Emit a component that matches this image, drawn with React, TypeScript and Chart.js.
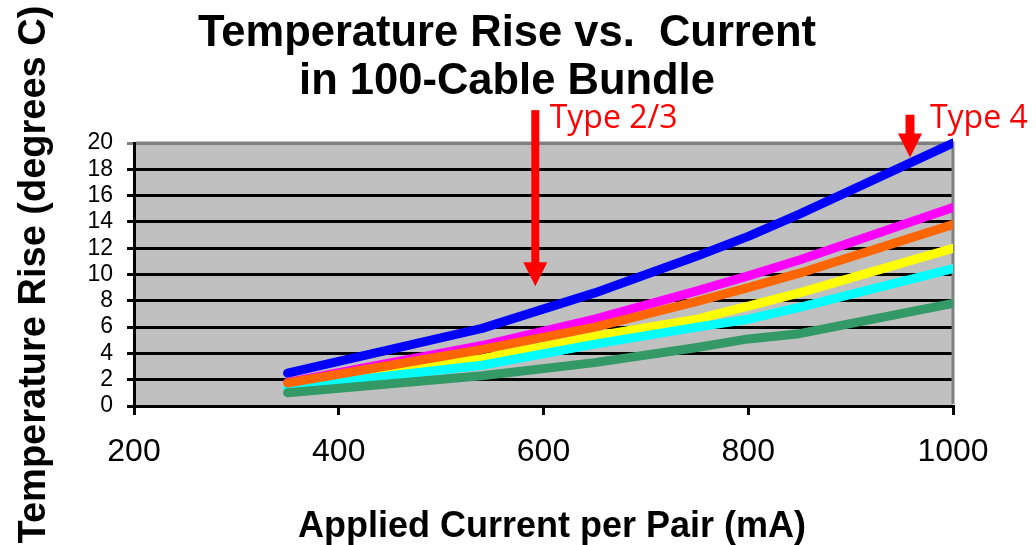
import { useEffect, useRef } from "react";
import { Chart, registerables } from "chart.js";

Chart.register(...registerables);

// ---- data ----
const currentsMA = [350, 540, 650, 750, 800, 850, 1000];
const riseBlue = [2.5, 5.9, 8.6, 11.4, 12.9, 14.6, 20.0];
const riseMagenta = [1.8, 4.6, 6.6, 8.75, 9.9, 11.1, 15.1];
const riseOrange = [1.75, 4.3, 6.0, 7.95, 9.0, 10.1, 13.8];
const riseYellow = [1.55, 3.6, 5.3, 6.6, 7.6, 8.6, 12.0];
const riseCyan = [1.4, 3.1, 4.7, 6.0, 6.6, 7.5, 10.45];
const riseGreen = [1.0, 2.3, 3.3, 4.45, 5.1, 5.5, 7.8];

const xTickValues = [200, 400, 600, 800, 1000];
const yTickValues = [0, 2, 4, 6, 8, 10, 12, 14, 16, 18, 20];

const titleLines = ["Temperature Rise vs.  Current", "in 100-Cable Bundle"];
const xAxisTitle = "Applied Current per Pair (mA)";
const yAxisTitle = "Temperature Rise (degrees C)";

// annotation arrows (in data units)
const arrowLabels = ["Type 2/3", "Type 4"];
const arrowCurrents = [592, 958];
const arrowTipRise = [9.1, 18.9];
const arrowTailRise = [22.5, 22.15];
const labelCurrents = [606, 977.5];
const labelRise = [21.13, 21.13];

const FONT = '"Liberation Sans", Arial, sans-serif';
const NOTE_FONT = '"Open Sans", "Noto Sans", sans-serif';

function pts(values: number[]) {
  return currentsMA.map((x, i) => ({ x, y: values[i] }));
}

const chartDecor = {
  id: "chartDecor",
  beforeDraw(chart: any) {
    const { ctx, chartArea } = chart;
    const { left, top, right, bottom } = chartArea;
    ctx.save();
    ctx.fillStyle = "#C0C0C0";
    ctx.fillRect(left, top, right - left, bottom - top);
    ctx.restore();
  },
  beforeDatasetsDraw(chart: any) {
    const { ctx, chartArea } = chart;
    const { left, top, right, bottom } = chartArea;
    ctx.save();
    ctx.strokeStyle = "#808080";
    ctx.lineWidth = 3;
    ctx.beginPath();
    ctx.moveTo(left + 2, top);
    ctx.lineTo(right, top);
    ctx.lineTo(right, bottom - 2);
    ctx.stroke();
    ctx.restore();
  },
  afterDraw(chart: any) {
    const { ctx } = chart;
    const xs = chart.scales.x;
    const ys = chart.scales.y;
    ctx.save();
    // chart title
    ctx.fillStyle = "#000000";
    ctx.textAlign = "center";
    ctx.textBaseline = "alphabetic";
    ctx.font = `bold 43.5px ${FONT}`;
    ctx.fillText(titleLines[0], 507, 46);
    ctx.fillText(titleLines[1], 507, 94);
    // x axis title
    ctx.font = `bold 36px ${FONT}`;
    ctx.fillText(xAxisTitle, 552, 537);

    // arrows + labels
    const shaftW = [8, 9];
    const headW = 24;
    const headH = 24;
    ctx.fillStyle = "#FF0000";
    for (let i = 0; i < arrowLabels.length; i++) {
      const px = xs.getPixelForValue(arrowCurrents[i]);
      const tip = ys.getPixelForValue(arrowTipRise[i]);
      const tail = ys.getPixelForValue(arrowTailRise[i]);
      const baseY = tip - headH;
      ctx.fillRect(px - shaftW[i] / 2, tail, shaftW[i], baseY - tail + 1);
      ctx.beginPath();
      ctx.moveTo(px - headW / 2, baseY);
      ctx.lineTo(px + headW / 2, baseY);
      ctx.lineTo(px, tip);
      ctx.closePath();
      ctx.fill();
      ctx.font = `32px ${NOTE_FONT}`;
      ctx.textAlign = "left";
      ctx.textBaseline = "alphabetic";
      ctx.fillText(
        arrowLabels[i],
        xs.getPixelForValue(labelCurrents[i]),
        ys.getPixelForValue(labelRise[i])
      );
    }
    ctx.restore();
  },
};

export default function App() {
  const canvasRef = useRef<HTMLCanvasElement | null>(null);

  useEffect(() => {
    const canvas = canvasRef.current;
    if (!canvas) return;
    const common = {
      borderWidth: 9,
      pointRadius: 0,
      pointHoverRadius: 0,
      tension: 0,
      fill: false,
      borderCapStyle: "round",
      borderJoinStyle: "round",
      clip: { left: 10, top: 10, right: 0, bottom: 10 },
    };
    const chart = new Chart(canvas, {
      type: "line",
      data: {
        datasets: [
          { label: "Blue", data: pts(riseBlue), borderColor: "#0000FF", ...common },
          { label: "Orange", data: pts(riseOrange), borderColor: "#FF6600", ...common },
          { label: "Green", data: pts(riseGreen), borderColor: "#339966", ...common },
          { label: "Cyan", data: pts(riseCyan), borderColor: "#00FFFF", ...common },
          { label: "Yellow", data: pts(riseYellow), borderColor: "#FFFF00", ...common },
          { label: "Magenta", data: pts(riseMagenta), borderColor: "#FF00FF", ...common },
        ] as any,
      },
      options: {
        responsive: false,
        animation: false,
        devicePixelRatio: 1,
        layout: { padding: { left: 0, right: 83, top: 143, bottom: 0 } },
        plugins: {
          legend: { display: false },
          title: { display: false },
          tooltip: { enabled: false },
        },
        events: [],
        scales: {
          x: {
            type: "linear",
            min: 200,
            max: 1000,
            afterBuildTicks: (scale: any) => {
              scale.ticks = xTickValues.map((v) => ({ value: v }));
            },
            afterFit: (scale: any) => {
              scale.height = 139;
            },
            grid: {
              drawOnChartArea: false,
              drawTicks: true,
              tickLength: 9,
              color: "#000000",
              lineWidth: 3,
            },
            border: { display: true, color: "#000000", width: 3 },
            ticks: {
              color: "#000000",
              padding: 18,
              maxRotation: 0,
              autoSkip: false,
              font: { family: FONT, size: 32 },
              callback: (v: any) => String(v),
            },
          },
          y: {
            type: "linear",
            min: 0,
            max: 20,
            afterBuildTicks: (scale: any) => {
              scale.ticks = yTickValues.map((v) => ({ value: v }));
            },
            afterFit: (scale: any) => {
              scale.width = 134;
            },
            grid: {
              drawOnChartArea: true,
              drawTicks: true,
              tickLength: 7,
              color: (c: any) => (c.tick && c.tick.value === 20 ? "#808080" : "#000000"),
              lineWidth: 3,
            },
            border: { display: true, color: "#000000", width: 3 },
            ticks: {
              color: "#000000",
              padding: 14,
              autoSkip: false,
              font: { family: FONT, size: 23, lineHeight: 1 },
              callback: (v: any) => String(v),
            },
            title: {
              display: true,
              text: yAxisTitle,
              color: "#000000",
              font: { family: FONT, size: 38, weight: "bold" },
              padding: { top: 12, bottom: 0 },
            },
          },
        },
      },
      plugins: [chartDecor],
    } as any);
    return () => chart.destroy();
  }, []);

  return (
    <div style={{ position: "fixed", left: 0, top: 0, width: 1036, height: 545, background: "#ffffff" }}>
      <canvas ref={canvasRef} width={1036} height={545} style={{ display: "block" }} />
    </div>
  );
}
